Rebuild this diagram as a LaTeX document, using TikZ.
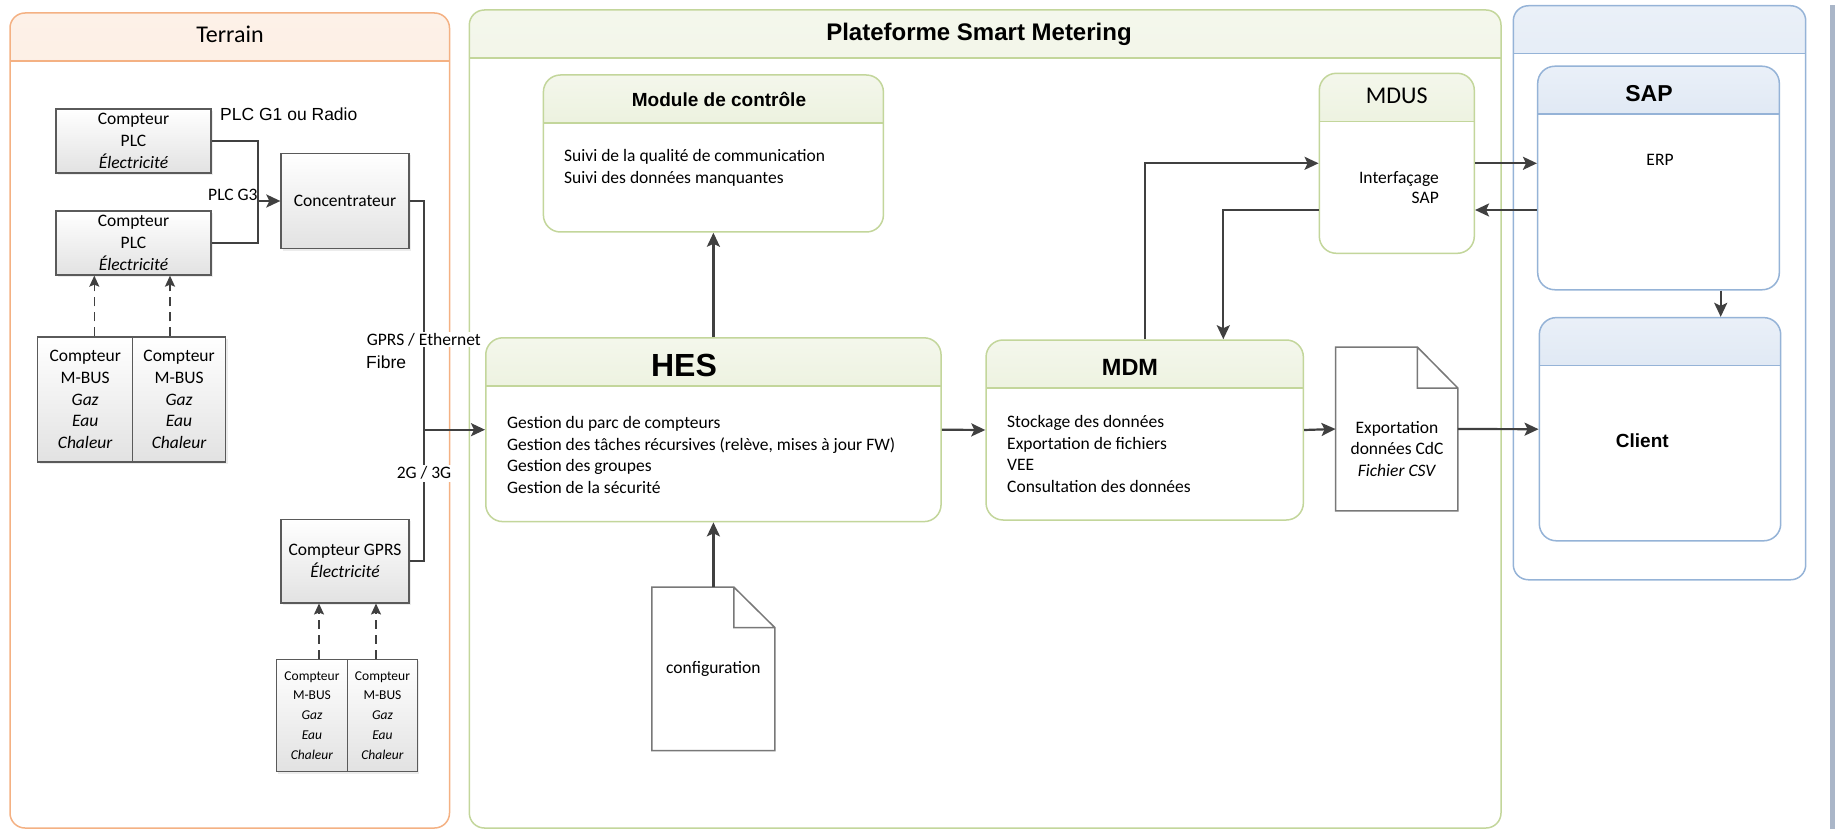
\documentclass[tikz,border=0pt]{standalone}
\usepackage{fontspec}
\setmainfont{Carlito}
\newfontfamily\arialf{Liberation Sans}
\usetikzlibrary{arrows.meta,shadows}
\definecolor{orangebord}{RGB}{244,177,131}
\definecolor{orangehaut}{RGB}{253,241,232}
\definecolor{orangebas}{RGB}{250,214,188}
\definecolor{vertbord}{RGB}{195,214,155}
\definecolor{verthaut}{RGB}{244,247,236}
\definecolor{vertbas}{RGB}{219,230,193}
\definecolor{bleubord}{RGB}{149,179,215}
\definecolor{bleuhaut}{RGB}{234,240,248}
\definecolor{bleubas}{RGB}{189,207,230}
\definecolor{grisbord}{RGB}{90,90,90}
\definecolor{grisfond}{RGB}{226,226,226}
\definecolor{gristrait}{RGB}{64,64,64}
\definecolor{grisdoc}{RGB}{120,120,120}
\definecolor{bordfen}{RGB}{170,182,200}
\begin{document}
\begin{tikzpicture}[x=1pt,y=-1pt,font=\fontsize{17.5}{21.8}\selectfont,
  bloc/.style={rectangle,rounded corners=17,draw=#1bord,line width=1.5,fill=white,
    path picture={\shade[sharp corners,top color=#1haut,bottom color=#1bas]
      (path picture bounding box.north west) rectangle ([yshift=-\entete]path picture bounding box.north east);
      \draw[sharp corners,#1bord,line width=1.5] ([yshift=-\entete]path picture bounding box.north west)
      -- ([yshift=-\entete]path picture bounding box.north east);}},
  compteur/.style={rectangle,draw=grisbord,line width=1.3,top color=white,bottom color=grisfond,
    align=center,inner sep=1,drop shadow={shadow xshift=2pt,shadow yshift=-2pt,opacity=.15}},
  doc/.style={rectangle,minimum width=122,minimum height=163},
  docbord/.style={draw=grisdoc,line width=1.5},
  corps/.style={anchor=north west,align=left,inner sep=0},
  titre/.style={anchor=base,inner sep=0,font=\arialf\bfseries\fontsize{#1}{#1}\selectfont},
  titre/.default=20,
  lien/.style={draw=gristrait,line width=2.2},
  fleche/.style={lien,-{Stealth[length=14pt,width=13pt,inset=3pt]}},
  pointille/.style={draw=gristrait,line width=1.6,dash pattern=on 9pt off 6pt,
    -{Stealth[length=11pt,width=10pt,inset=2pt]}}]
\def\entete{48}
\useasboundingbox (0,0) rectangle (1839,829);
\fill[bordfen] (1830,5) rectangle (1835,829);

% cadres
\node[bloc=orange,rounded corners=15,minimum width=439.5,minimum height=815] (terrain) at (229.75,420.5) {};
\node[bloc=vert,rounded corners=15,minimum width=1031.7,minimum height=818] (plateforme) at (985.15,419) {};
\node[bloc=bleu,rounded corners=15,minimum width=292.4,minimum height=574] (systemes) at (1659.5,292.75) {};
\node[anchor=base,inner sep=0,font=\fontsize{24}{24}\selectfont] (terraintitre) at (230,43) {Terrain};
\node[titre=24] (plateformetitre) at (979,41) {Plateforme Smart Metering};

% terrain
\node[compteur,minimum width=155,minimum height=64] (plca) at (133.5,141) {Compteur\\PLC\\\textit{Électricité}};
\node[compteur,minimum width=155,minimum height=64] (plcb) at (133.5,243) {Compteur\\PLC\\\textit{Électricité}};
\node[compteur,minimum width=128,minimum height=95] (conc) at (345,201) {Concentrateur};
\node[compteur,minimum width=95,minimum height=124.8] (mba) at (85.2,399.5) {Compteur\\M-BUS\\\textit{Gaz}\\\textit{Eau}\\\textit{Chaleur}};
\node[compteur,minimum width=92.8,minimum height=124.8] (mbb) at (179.1,399.5) {Compteur\\M-BUS\\\textit{Gaz}\\\textit{Eau}\\\textit{Chaleur}};
\node[compteur,minimum width=128,minimum height=83.7] (gprs) at (345,561) {Compteur GPRS\\\textit{Électricité}};
\node[compteur,minimum width=71.4,minimum height=112.3,font=\fontsize{13.5}{19.8}\selectfont] (mbc) at (312,715.35) {Compteur\\M-BUS\\\textit{Gaz}\\\textit{Eau}\\\textit{Chaleur}};
\node[compteur,minimum width=69.6,minimum height=112.3,font=\fontsize{13.5}{19.8}\selectfont] (mbd) at (382.5,715.35) {Compteur\\M-BUS\\\textit{Gaz}\\\textit{Eau}\\\textit{Chaleur}};

% plateforme
\node[bloc=vert,minimum width=340,minimum height=157] (module) at (713.4,153.5) {};
\node[titre=19] (moduletitre) at (719,107) {Module de contrôle};
\node[corps] (moduletexte) at (564,149.5) {Suivi de la qualité de communication\\Suivi des données manquantes};
\node[bloc=vert,minimum width=455.3,minimum height=183.8] (hes) at (713.4,429.7) {};
\node[titre=32] (hestitre) at (684,376) {HES};
\node[corps] (hestexte) at (507,416) {Gestion du parc de compteurs\\Gestion des tâches récursives (relève, mises à jour FW)\\Gestion des groupes\\Gestion de la sécurité};
\node[bloc=vert,minimum width=317.3,minimum height=180] (mdm) at (1144.7,430) {};
\node[titre=23.5] (mdmtitre) at (1130,375) {MDM};
\node[corps] (mdmtexte) at (1007,415) {Stockage des données\\Exportation de fichiers\\VEE\\Consultation des données};
\node[bloc=vert,minimum width=155,minimum height=180] (mdus) at (1396.8,163.3) {};
\node[anchor=base,inner sep=0,font=\fontsize{24}{24}\selectfont] (mdustitre) at (1396.7,104) {MDUS};
\node[anchor=east,align=right,inner sep=0,font=\fontsize{17.5}{20}\selectfont] (mdustexte) at (1439,188) {Interfaçage\\SAP};
\node[doc,minimum width=122.6] (config) at (713.4,668.85) {configuration};
\draw[docbord] (config.north west) -- ([xshift=-41]config.north east) -- ([yshift=-40.5]config.north east)
  -- (config.south east) -- (config.south west) -- cycle
  ([xshift=-41]config.north east) |- ([yshift=-40.5]config.north east);
\node[doc,minimum height=163.4] (export) at (1396.7,429) {};
\draw[docbord] (export.north west) -- ([xshift=-40.5]export.north east) -- ([yshift=-41]export.north east)
  -- (export.south east) -- (export.south west) -- cycle
  ([xshift=-40.5]export.north east) |- ([yshift=-41]export.north east);
\node[align=center] (exporttexte) at (1397,449) {Exportation\\données CdC\\\textit{Fichier CSV}};

% SAP et client
\node[bloc=bleu,minimum width=241.6,minimum height=223.5] (sap) at (1658.5,178) {};
\node[titre=23] (saptitre) at (1649,102) {SAP};
\node[anchor=base,inner sep=0] (erp) at (1660,166) {ERP};
\node[bloc=bleu,minimum width=241.4,minimum height=223.2] (client) at (1660,429.2) {};
\node[titre=19] (clienttexte) at (1642.3,447) {Client};

% liaisons
\coordinate (jplc) at (258,201);
\coordinate (jgprs) at (424,429.7);
\draw[lien] (plca.east) -| (jplc);
\draw[lien] (plcb.east) -| (jplc);
\draw[fleche] (jplc) -- (conc.west);
\draw[lien] (conc.east) -| (jgprs);
\draw[lien] (gprs.east) -| (jgprs);
\draw[fleche] (jgprs) -- (hes.west);
\draw[pointille] ([xshift=9.1]mba.north) -- ([xshift=9.1]mba.north |- plcb.south);
\draw[pointille] ([xshift=-9.1]mbb.north) -- ([xshift=-9.1]mbb.north |- plcb.south);
\draw[pointille] ([xshift=7]mbc.north) -- ([xshift=7]mbc.north |- gprs.south);
\draw[pointille] ([xshift=-6.5]mbd.north) -- ([xshift=-6.5]mbd.north |- gprs.south);
\draw[fleche] (hes.north) -- (module.south);
\draw[fleche] (config.north) -- (hes.south);
\draw[fleche] (hes.east) -- (mdm.west);
\draw[fleche] (mdm.east) -- (export.west);
\draw[fleche] (export.east) -- (client.west);
\draw[fleche] (mdm.north) |- (mdus.west);
\draw[fleche] ([yshift=-46.7]mdus.west) -| ([xshift=78.6]mdm.north);
\draw[fleche] (mdus.east) -- (mdus.east -| sap.west);
\draw[fleche] ([yshift=-46.7]mdus.east -| sap.west) -- ([yshift=-46.7]mdus.east);
\draw[fleche] ([xshift=62.2]sap.south) -- ([xshift=62.2]sap.south |- client.north);

% etiquettes
\node[anchor=west,inner sep=0,font=\arialf\fontsize{17.5}{17.5}\selectfont] (plcradio) at (220,114) {PLC G1 ou Radio};
\node[anchor=west,inner sep=0] (plcg3) at (208,195) {PLC G3};
\node[anchor=base west,fill=white,inner sep=1] (gprseth) at (365.7,345.5) {GPRS / Ethernet};
\node[anchor=base west,inner sep=0,font=\arialf\fontsize{17.5}{17.5}\selectfont] (fibre) at (366,368.5) {Fibre};
\node[anchor=base,fill=white,inner sep=2] (g23) at (424,478.8) {2G / 3G};
\end{tikzpicture}
\end{document}
